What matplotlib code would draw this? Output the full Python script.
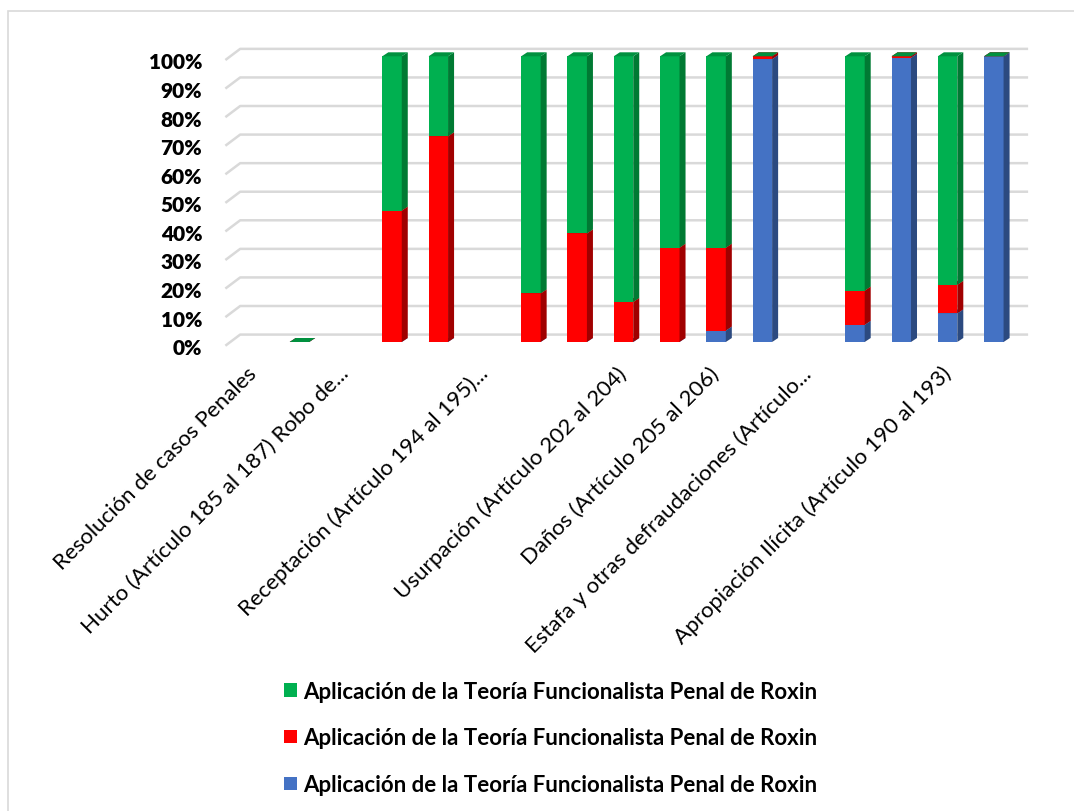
import numpy as np
import matplotlib.pyplot as plt
from matplotlib.patches import Polygon, Rectangle, Patch
from matplotlib.transforms import ScaledTranslation

# categories (17 slots, labels only on some of them)
labels = ["Resolución de casos Penales", "",
          "Hurto (Artículo 185 al 187) Robo de...", "", "",
          "Receptación (Artículo 194 al 195)...", "", "",
          "Usurpación (Artículo 202 al 204)", "",
          "Daños (Artículo 205 al 206)", "",
          "Estafa y otras defraudaciones (Artículo...", "", "",
          "Apropiación Ilícita (Artículo 190 al 193)", ""]

nan = np.nan
blue = [nan, 0, nan, 0, 0, nan, 0, 0, 0, 0, 4, 99, nan, 6, 99.5, 10, 100]
red = [nan, 0, nan, 46, 72, nan, 17, 38, 14, 33, 29, 1, nan, 12, 0.5, 10, 0]
green = [nan, 0, nan, 54, 28, nan, 83, 62, 86, 67, 67, 0, nan, 82, 0, 80, 0]

series_name = "Aplicación de la Teoría Funcionalista Penal de Roxin"

# (front, side, top)
c_blue = ("#4472C4", "#2C4A80", "#3A63AC")
c_red = ("#FF0000", "#A00000", "#D00000")
c_green = ("#00B050", "#007A33", "#00913F")

W, H = 1074, 812
fig = plt.figure(figsize=(W / 100, H / 100), dpi=100)

# outer chart border
fig.patches.append(Rectangle((8 / W, -0.1), 1.2, 1 - 12 / H + 0.1, transform=fig.transFigure,
                             fill=False, edgecolor="#D9D9D9", linewidth=1.2))

ax = fig.add_axes([230 / W, (H - 343) / H, 787 / W, 285.7 / H])
ax.set_xlim(-0.5, 16.5)
ax.set_ylim(0, 100)
for s in ax.spines.values():
    s.set_visible(False)

# 3d-like gridlines on back wall
for v in range(0, 101, 10):
    ax.plot([-0.6, -0.28, 16.74], [v - 1.3, v + 2.6, v + 2.6], color="#D9D9D9",
            lw=1.8, clip_on=False, zorder=0, solid_capstyle="butt")

w = 0.42
dx, dy = 0.13, 1.4


def bar3d(ax, c, b, h, cols):
    x0, x1 = c - w / 2, c + w / 2
    front = Rectangle((x0, b), w, h, facecolor=cols[0], edgecolor="none", clip_on=False, zorder=3)
    side = Polygon([(x1, b), (x1 + dx, b + dy), (x1 + dx, b + h + dy), (x1, b + h)],
                   facecolor=cols[1], edgecolor="none", clip_on=False, zorder=3)
    top = Polygon([(x0, b + h), (x0 + dx, b + h + dy), (x1 + dx, b + h + dy), (x1, b + h)],
                  facecolor=cols[2], edgecolor="none", clip_on=False, zorder=3)
    for p in (front, side, top):
        ax.add_patch(p)


for i in range(len(labels)):
    if np.isnan(blue[i]):
        continue
    b = 0
    for vals, cols in ((blue, c_blue), (red, c_red), (green, c_green)):
        bar3d(ax, i, b, vals[i], cols)
        b += vals[i]

ax.set_yticks(range(0, 101, 10))
ax.set_yticklabels([f"{v}%" for v in range(0, 101, 10)], fontsize=15, fontweight="heavy",
                   family="Lato")
ax.tick_params(axis="y", length=0, pad=20)
for t in ax.get_yticklabels():
    t.set_transform(t.get_transform() + ScaledTranslation(0, -3 / 72, fig.dpi_scale_trans))

ax.set_xticks(range(len(labels)))
ax.set_xticklabels(labels, rotation=45, ha="right", va="center", rotation_mode="anchor",
                   fontsize=16, family="Lato")
ax.tick_params(axis="x", length=0, pad=20)

handles = [Patch(facecolor=c_green[0], label=series_name),
           Patch(facecolor=c_red[0], label=series_name),
           Patch(facecolor=c_blue[0], label=series_name)]
fig.legend(handles=handles, loc="center", bbox_to_anchor=(551 / W, 1 - 739 / H),
           frameon=False, prop={"family": "Lato", "weight": "bold", "size": 16},
           handlelength=0.55, handleheight=0.55, handletextpad=0.3, labelspacing=1.15)

fig.savefig("out.png", dpi=100)
